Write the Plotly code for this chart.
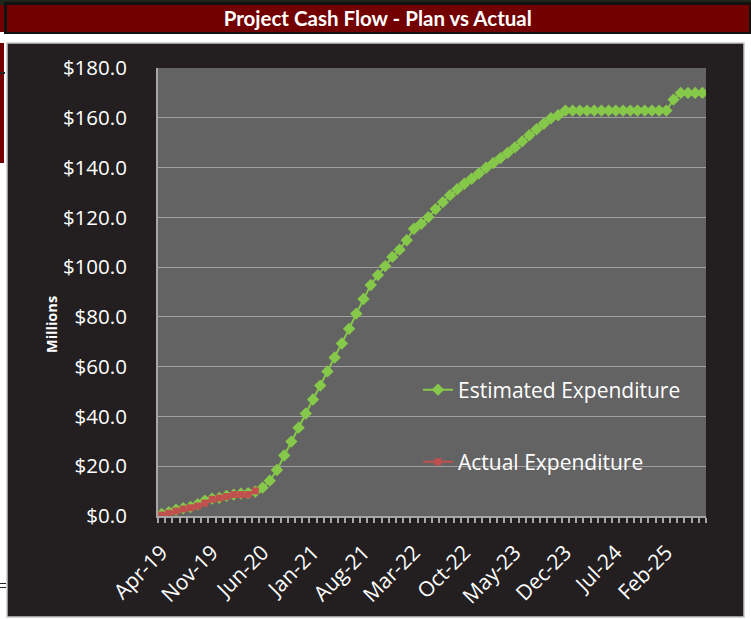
import plotly.graph_objects as go

months = [
    "Apr-19","May-19","Jun-19","Jul-19","Aug-19","Sep-19","Oct-19","Nov-19","Dec-19",
    "Jan-20","Feb-20","Mar-20","Apr-20","May-20","Jun-20","Jul-20","Aug-20","Sep-20","Oct-20","Nov-20","Dec-20",
    "Jan-21","Feb-21","Mar-21","Apr-21","May-21","Jun-21","Jul-21","Aug-21","Sep-21","Oct-21","Nov-21","Dec-21",
    "Jan-22","Feb-22","Mar-22","Apr-22","May-22","Jun-22","Jul-22","Aug-22","Sep-22","Oct-22","Nov-22","Dec-22",
    "Jan-23","Feb-23","Mar-23","Apr-23","May-23","Jun-23","Jul-23","Aug-23","Sep-23","Oct-23","Nov-23","Dec-23",
    "Jan-24","Feb-24","Mar-24","Apr-24","May-24","Jun-24","Jul-24","Aug-24","Sep-24","Oct-24","Nov-24","Dec-24",
    "Jan-25","Feb-25","Mar-25","Apr-25","May-25","Jun-25","Jul-25",
]

estimated = [
    0.8, 1.5, 2.5, 3.1, 3.6, 4.7, 6.2, 7.0, 7.3, 8.1, 8.6, 9.0, 9.2, 9.8,
    11.4, 14.2, 18.5, 24.3, 29.9, 35.5, 41.2, 46.8, 52.4, 58.1, 63.7, 69.3,
    75.2, 81.3, 87.2, 92.8, 96.8, 100.4, 104.1, 107.0, 110.8, 115.4, 117.4,
    120.1, 123.3, 126.1, 128.9, 131.3, 133.5, 135.5, 137.6, 139.9, 141.8,
    143.8, 145.9, 148.1, 150.5, 153.0, 155.4, 157.6, 159.8, 161.0, 162.9,
    162.9, 162.9, 162.9, 162.9, 162.9, 162.9, 162.9, 162.9, 162.9, 162.9,
    162.9, 162.9, 162.9, 162.9, 167.3, 170.0, 170.0, 170.0, 170.0,
]

actual = [0.4, 1.1, 2.0, 2.8, 3.3, 4.0, 5.2, 6.7, 7.2, 7.8, 8.6, 8.6, 8.6, 10.1]

tick_step = 7
y_ticks = [0, 20, 40, 60, 80, 100, 120, 140, 160, 180]
y_tick_labels = ["$0.0", "$20.0", "$40.0", "$60.0", "$80.0", "$100.0",
                 "$120.0", "$140.0", "$160.0", "$180.0"]

# ---- layout geometry (pixels) ----
W, H = 751, 619
PL, PR, PT, PB = 158, 706, 68, 516


def px(x):
    return (x - PL) / (PR - PL)


def py(y):
    return (PB - y) / (PB - PT)


x_est = list(range(len(estimated)))
x_act = list(range(len(actual)))

fig = go.Figure()
fig.add_trace(go.Scatter(
    x=x_est, y=estimated, name="Estimated Expenditure", mode="lines+markers",
    line=dict(color="#86c94a", width=2),
    marker=dict(symbol="diamond", size=9.5, color="#86c94a"),
    legend="legend",
))
fig.add_trace(go.Scatter(
    x=x_act, y=actual, name="Actual Expenditure", mode="lines+markers",
    line=dict(color="#c0504d", width=2),
    marker=dict(symbol="square", size=7, color="#c0504d"),
    legend="legend2",
))


def rect(x0, y0, x1, y1, fill, line=None, lw=0):
    return dict(type="rect", xref="paper", yref="paper",
                x0=px(x0), x1=px(x1), y0=py(y1), y1=py(y0),
                fillcolor=fill, line=dict(color=line or fill, width=lw),
                layer="below")


shapes = [
    rect(0, 0, 751, 5, "#1c2619"),
    rect(4, 2, 751, 34, "#111111"),
    rect(7, 5, 749, 32, "#720000"),
    rect(0, 5, 4, 32, "#720000"),
    rect(0, 43, 4, 163, "#720000"),
    rect(0, 72, 5, 74, "#222222"),
    rect(0, 583, 6, 584, "#222222"),
    rect(0, 587, 6, 588, "#222222"),
    rect(7, 43, 744, 617, "#231f20", "#c8c8c8", 1.5),
    rect(PL, PT, PR, PB, "#636363"),
]

font_family = "Open Sans"

fig.update_layout(
    width=W, height=H,
    margin=dict(l=PL, r=W - PR, t=PT, b=H - PB, pad=0, autoexpand=False),
    paper_bgcolor="white",
    plot_bgcolor="#636363",
    shapes=shapes,
    showlegend=True,
    title=dict(
        text="<b>Project Cash Flow - Plan vs Actual</b>",
        x=0.503, xref="container", xanchor="center",
        y=1 - 18.5 / H, yref="container", yanchor="middle",
        font=dict(family="Lato", size=20.5, color="white"),
    ),
    legend=dict(
        x=px(418), y=py(390), xanchor="left", yanchor="middle",
        bgcolor="rgba(0,0,0,0)", borderwidth=0,
        font=dict(family=font_family, size=21, color="white"),
    ),
    legend2=dict(
        x=px(418), y=py(462), xanchor="left", yanchor="middle",
        bgcolor="rgba(0,0,0,0)", borderwidth=0,
        font=dict(family=font_family, size=21, color="white"),
    ),
    annotations=[dict(
        text="<b>Millions</b>", textangle=-90,
        x=px(51), y=py(325), xref="paper", yref="paper",
        showarrow=False, xanchor="center", yanchor="middle",
        font=dict(family=font_family, size=14.5, color="white"),
    )],
)

fig.update_xaxes(
    range=[-0.5, len(months) - 0.5],
    tickvals=x_est[::tick_step],
    ticktext=months[::tick_step],
    tickangle=-45,
    ticks="", ticklen=0,
    ticklabelstandoff=14,
    automargin=False,
    tickfont=dict(family=font_family, size=21, color="white"),
    showgrid=False, zeroline=False,
    showline=True, linecolor="#a6a6a6", linewidth=2,
    minor=dict(tickvals=[i - 0.5 for i in range(len(months) + 1)],
               ticks="outside", ticklen=5, tickcolor="#a6a6a6", tickwidth=1.5,
               showgrid=False),
)

fig.update_yaxes(
    range=[0, 180],
    tickvals=y_ticks,
    ticktext=y_tick_labels,
    ticks="", ticklabelstandoff=25,
    automargin=False,
    tickfont=dict(family=font_family, size=20.5, color="white"),
    showgrid=True, gridcolor="#a0a0a0", gridwidth=1.3,
    zeroline=False,
    showline=True, linecolor="#a6a6a6", linewidth=2,
)

fig.write_html(
    "out.html",
    config={"displayModeBar": False},
    post_script="document.body.style.margin='0';document.body.style.padding='0';",
)
